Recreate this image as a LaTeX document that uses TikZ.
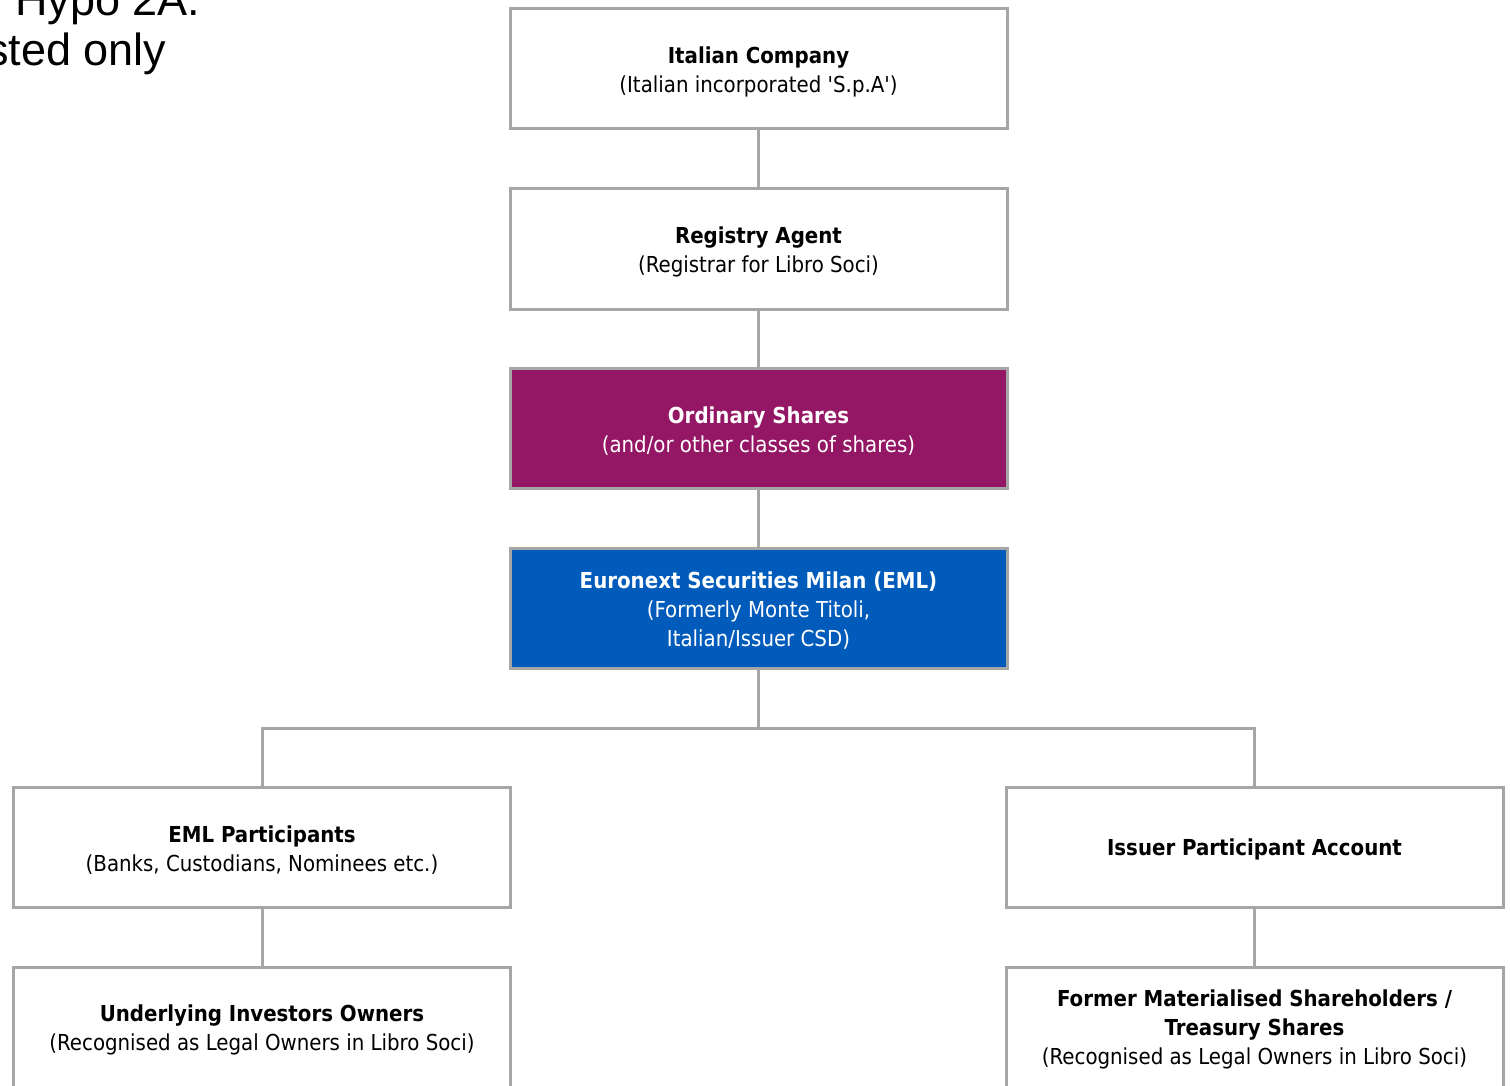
\documentclass[tikz,border=0pt]{standalone}
\usepackage{fontspec}
\setmainfont{DejaVu Sans Condensed}
\newfontfamily\sqfont{DejaVu Sans Condensed}[Ligatures=TeXOff]
\newfontfamily\arialfont{Liberation Sans}
\definecolor{boxgray}{HTML}{A6A6A6}
\definecolor{sharepurple}{HTML}{941766}
\definecolor{emlblue}{HTML}{005BBB}
\newcommand{\sq}{{\sqfont'}}
\newcommand{\tstrut}{\rule{0pt}{22.5pt}}
\tikzset{
  orgbox/.style={draw=boxgray, line width=3pt, fill=white, minimum width=497pt, minimum height=120pt,
    inner sep=0pt, align=center, font=\fontsize{22}{29}\selectfont, text=black},
  purplebox/.style={orgbox, fill=sharepurple, text=white},
  bluebox/.style={orgbox, fill=emlblue, text=white},
  link/.style={draw=boxgray, line width=3pt},
  cuttext/.style={font=\arialfont\fontsize{45}{50}\selectfont, anchor=base west, inner sep=0pt}
}
\begin{document}
\begin{tikzpicture}[x=1pt,y=-1pt]
\useasboundingbox (0,0) rectangle (1510,1086);
\clip (0,0) rectangle (1510,1086);
\fill[white] (0,0) rectangle (1510,1086);
\node[cuttext] (hypo) at (15,16) {Hypo 2A.};
\node[cuttext] (only) at (-14,66) {sted only};

\node[orgbox] (ic) at (758.5,69) {\tstrut\textbf{Italian Company}\\(Italian incorporated \sq S.p.A\sq)};
\node[orgbox] (ra) at (758.5,249) {\tstrut\textbf{Registry Agent}\\(Registrar for Libro Soci)};
\node[purplebox] (os) at (758.5,428.5) {\tstrut\textbf{Ordinary Shares}\\(and/or other classes of shares)};
\node[bluebox] (eml) at (758.5,608) {\tstrut\textbf{Euronext Securities Milan (EML)}\\(Formerly Monte Titoli,\\Italian/Issuer CSD)};
\node[orgbox] (emlp) at (262,847) {\tstrut\textbf{EML Participants}\\(Banks, Custodians, Nominees etc.)};
\node[orgbox] (ipa) at (1254.5,847) {\tstrut\textbf{Issuer Participant Account}};
\node[orgbox] (uio) at (262,1027) {\tstrut\textbf{Underlying Investors Owners}\\(Recognised as Legal Owners in Libro Soci)};
\node[orgbox] (fms) at (1254.5,1027) {\tstrut\textbf{Former Materialised Shareholders /}\\\textbf{Treasury Shares}\\(Recognised as Legal Owners in Libro Soci)};

\draw[link] (ic.south) -- (ra.north);
\draw[link] (ra.south) -- (os.north);
\draw[link] (os.south) -- (eml.north);
\coordinate (bus) at (758.5,728);
\draw[link] (eml.south) -- (bus);
\draw[link] (bus) -| (emlp.north);
\draw[link] (bus) -| (ipa.north);
\draw[link] (emlp.south) -- (uio.north);
\draw[link] (ipa.south) -- (fms.north);
\end{tikzpicture}
\end{document}
